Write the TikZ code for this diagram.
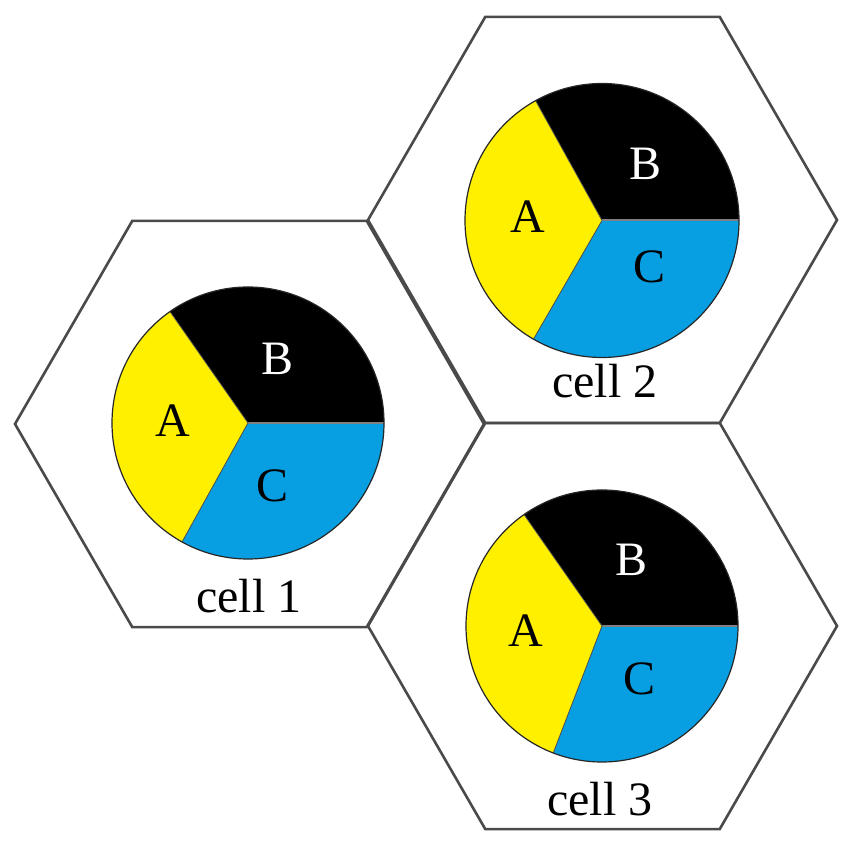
\documentclass[tikz,border=0pt]{standalone}
\usepackage{fontspec}
\setmainfont{Liberation Serif}
\definecolor{secA}{HTML}{FFF000}
\definecolor{secC}{HTML}{089FE2}
\definecolor{hexline}{HTML}{4A4A4A}
\tikzset{
  hexedge/.style={draw=hexline, line width=2.6pt, line join=miter},
  rim/.style={draw=black!85, line width=1.2pt},
  divline/.style={draw=gray, line width=2pt},
  lettertxt/.style={inner sep=0pt, anchor=base, font=\fontsize{48}{48}\selectfont},
  celltxt/.style={inner sep=0pt, anchor=base, font=\fontsize{48}{48}\selectfont},
}
% #1 name, #2 hex center, #3 circle center, #4 radius, #5 angle1, #6 angle2
\newcommand\drawcellpie[6]{%
  \coordinate (#1hc) at #2;
  \coordinate (#1cc) at #3;
  \draw[hexedge] (#1hc) ++(0:234.5) -- ++(120:234.5) -- ++(180:234.5) -- ++(240:234.5)
     -- ++(300:234.5) -- ++(0:234.5) -- cycle;
  \fill[black] (#1cc) -- ++(0:#4) arc[start angle=0, end angle=#5, radius=#4] -- cycle;
  \fill[secA] (#1cc) -- ++(#5:#4) arc[start angle=#5, end angle=#6, radius=#4] -- cycle;
  \fill[secC] (#1cc) -- ++(#6:#4) arc[start angle=#6, end angle=360, radius=#4] -- cycle;
  \draw[divline] (#1cc) -- ++(0:#4);
  \draw[black!70, line width=0.8pt] (#1cc) -- ++(#5:#4);
  \draw[black!70, line width=0.8pt] (#1cc) -- ++(#6:#4);
  \draw[rim] (#1cc) circle[radius=#4];
}
\begin{document}
\begin{tikzpicture}[x=1pt,y=1pt]
\useasboundingbox (0,0) rectangle (853,848);
\fill[white] (0,0) rectangle (853,848);
\drawcellpie{one}{(249.5,424)}{(248,425)}{136}{125}{241}
\drawcellpie{two}{(602.5,628)}{(602,627.5)}{137}{119}{240}
\drawcellpie{three}{(602.5,222)}{(602,222)}{136}{125}{249}
% cell 1 labels
\node[lettertxt] (oneA) at (173,411) {A};
\node[lettertxt, text=white] (oneB) at (278,473) {B};
\node[lettertxt] (oneC) at (273,346) {C};
\node[celltxt] (oneL) at (249,235) {cell 1};
% cell 2 labels
\node[lettertxt] (twoA) at (528,615) {A};
\node[lettertxt, text=white] (twoB) at (645,668) {B};
\node[lettertxt] (twoC) at (649,565) {C};
\node[celltxt] (twoL) at (605,450) {cell 2};
% cell 3 labels
\node[lettertxt] (threeA) at (526,201) {A};
\node[lettertxt, text=white] (threeB) at (631,272) {B};
\node[lettertxt] (threeC) at (639,153) {C};
\node[celltxt] (threeL) at (600,33) {cell 3};
\end{tikzpicture}
\end{document}
